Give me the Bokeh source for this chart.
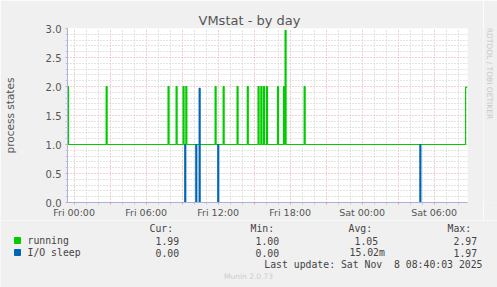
from bokeh.plotting import figure
from bokeh.models import Range1d, FixedTicker, ColumnDataSource
from bokeh.layouts import column, row
from bokeh.core.properties import value
from bokeh.embed import file_html
from bokeh.resources import INLINE
import math

# ---- data (hours from Fri 00:00) ----
running_spike_hours = [-0.55, 2.67, 7.83, 8.50, 9.08, 9.31, 11.75, 12.42, 13.58, 14.43,
                       15.33, 15.56, 15.78, 16.03, 16.95, 17.45, 17.58, 19.17, 32.62]
running_spike_values = [2.0, 2.0, 2.0, 2.0, 2.0, 2.0, 2.0, 2.0, 2.0, 2.0,
                        2.0, 2.0, 2.0, 2.0, 2.0, 2.0, 2.97, 2.0, 1.99]
running_spike_samples = [1, 1, 1, 1, 1, 1, 1, 1, 1, 1, 1, 1, 1, 1, 1, 1, 1, 1, 3]
running_base = 1.0

iosleep_spike_hours = [9.22, 10.14, 10.42, 11.97, 28.81]
iosleep_spike_values = [1.0, 1.0, 1.97, 1.0, 1.0]
iosleep_spike_samples = [1, 1, 1, 1, 1]
iosleep_base = 0.0

x_start, x_end = -0.55, 32.78
sample_h = 5.0 / 60.0

x_major_ticks = [0, 3, 6, 9, 12, 15, 18, 21, 24, 27, 30]
x_minor_ticks = [h for h in range(0, 33) if h % 3 != 0]
x_tick_labels = {0: "Fri 00:00", 3: "", 6: "Fri 06:00", 9: "", 12: "Fri 12:00", 15: "",
                 18: "Fri 18:00", 21: "", 24: "Sat 00:00", 27: "", 30: "Sat 06:00"}
y_major_ticks = [0.0, 0.5, 1.0, 1.5, 2.0, 2.5, 3.0]
y_minor_ticks = [0.1, 0.2, 0.3, 0.4, 0.6, 0.7, 0.8, 0.9, 1.1, 1.2, 1.3, 1.4, 1.6, 1.7, 1.8, 1.9,
                 2.1, 2.2, 2.3, 2.4, 2.6, 2.7, 2.8, 2.9]

series_names = ["running", "I/O sleep"]
series_colors = ["#00cc00", "#0066b3"]
stat_headers = ["Cur:", "Min:", "Avg:", "Max:"]
stat_cur = ["1.99", "0.00"]
stat_min = ["1.00", "0.00"]
stat_avg = ["1.05", "15.02m"]
stat_max = ["2.97", "1.97"]
last_update = "Last update: Sat Nov \u00a08 08:40:03 2025"
munin_version = "Munin 2.0.73"
title_text = "VMstat - by day"
y_label = "process states"
side_text = "RRDTOOL / TOBI OETIKER"

W, H = 497, 287
TOP_H = 220
STRIP_W = 14
BG = "#f0f0f0"


def build(times, vals, lens, base):
    xs, ys = [x_start], [base]
    for t, v, n in zip(times, vals, lens):
        t0 = max(t, x_start)
        t1 = min(t + n * sample_h, x_end)
        xs += [t0, t0, t1, t1]
        ys += [base, v, v, base if t1 < x_end else v]
    if xs[-1] < x_end:
        xs.append(x_end)
        ys.append(base)
    return xs, ys


# ---------------- main chart ----------------
p = figure(width=W - STRIP_W, height=TOP_H, output_backend="svg", toolbar_location=None,
           x_range=Range1d(x_start, x_end), y_range=Range1d(0, 3),
           min_border_left=67, min_border_right=30 - STRIP_W, min_border_top=28,
           min_border_bottom=TOP_H - 203)
p.border_fill_color = BG
p.background_fill_color = "white"
p.outline_line_color = None

p.title.text = title_text
p.title.text_font = "DejaVu Sans"
p.title.text_font_size = "13px"
p.title.text_font_style = "normal"
p.title.text_color = "#555555"
p.title.align = "left"
p.title.offset = 131
p.title.standoff = 2

for ax in (p.xaxis[0], p.yaxis[0]):
    ax.axis_line_color = "#a8b0e0"
    ax.major_label_text_font = "DejaVu Sans"
    ax.major_label_text_color = "#555555"
    ax.major_tick_line_color = "#e8a0a0"
    ax.minor_tick_line_color = "#c8c8c8"
    ax.major_tick_in = 0
    ax.major_tick_out = 2
    ax.minor_tick_in = 0
    ax.minor_tick_out = 2

p.xaxis[0].ticker = FixedTicker(ticks=x_major_ticks, minor_ticks=x_minor_ticks)
p.xaxis[0].major_label_overrides = x_tick_labels
p.xaxis[0].major_label_text_font_size = "9.5px"
p.xaxis[0].major_label_standoff = 2
p.yaxis[0].ticker = FixedTicker(ticks=y_major_ticks, minor_ticks=y_minor_ticks)
p.yaxis[0].major_label_overrides = {v: "%.1f" % v for v in y_major_ticks}
p.yaxis[0].major_label_text_font_size = "10px"
p.yaxis[0].major_label_standoff = 4
p.yaxis[0].axis_label = y_label
p.yaxis[0].axis_label_text_font = "DejaVu Sans"
p.yaxis[0].axis_label_text_font_size = "10.5px"
p.yaxis[0].axis_label_text_font_style = "normal"
p.yaxis[0].axis_label_text_color = "#555555"
p.yaxis[0].axis_label_standoff = 27

for g in (p.xgrid[0], p.ygrid[0]):
    g.grid_line_color = "#e8a0a0"
    g.grid_line_dash = "1 2"
    g.grid_line_width = 1
    g.minor_grid_line_color = "#c8c8c8"
    g.minor_grid_line_dash = "1 2"
    g.minor_grid_line_width = 1

rx, ry = build(running_spike_hours, running_spike_values, running_spike_samples, running_base)
ix, iy = build(iosleep_spike_hours, iosleep_spike_values, iosleep_spike_samples, iosleep_base)
p.line(rx, ry, line_color=series_colors[0], line_width=1.2)
p.line(ix, iy, line_color=series_colors[1], line_width=1.2)


def blank(w, h):
    f = figure(width=w, height=h, output_backend="svg", toolbar_location=None,
               x_range=Range1d(0, w), y_range=Range1d(0, h),
               x_axis_location=None, y_axis_location=None, min_border=0)
    f.border_fill_color = BG
    f.background_fill_color = BG
    f.outline_line_color = None
    f.xgrid.visible = False
    f.ygrid.visible = False
    return f


# ---------------- right strip ----------------
s = blank(STRIP_W, TOP_H)
s.text(x=[488.5 - (W - STRIP_W)], y=[TOP_H - 53.5], text=[side_text],
       text_font=value("DejaVu Sans"), text_font_size="7.5px", text_color="#c8c8c8",
       text_align="center", text_baseline="middle", angle=-math.pi / 2)

# ---------------- legend area ----------------
LH = H - TOP_H
lg = blank(W, LH)


def txt(strs, xs, cys, size="9.8px", font="DejaVu Sans Mono", color="#444444", align="left"):
    src = ColumnDataSource(dict(x=xs, y=[H - c for c in cys], t=strs))
    lg.text(x="x", y="y", text="t", source=src, text_font=value(font), text_font_size=size,
            text_color=color, text_align=align, text_baseline="middle")


txt(stat_headers, [149, 250, 348, 447], [227.5] * 4)
row_y = [240, 252]
lg.scatter(x=[17, 17], y=[H - c for c in row_y], marker="square", size=6,
           fill_color=series_colors, line_color=series_colors)
txt(series_names, [27, 27], row_y)
txt(stat_cur, [155, 155], row_y)
txt(stat_min, [255, 255], row_y)
txt(stat_avg, [354, 349], row_y)
txt(stat_max, [453, 453], row_y)
txt([last_update], [482], [263.5], align="right")
txt([munin_version], [248], [276], size="7.5px", font="DejaVu Sans", color="#cccccc",
    align="center")

layout = column(row(p, s, spacing=0), lg, spacing=0)
open("out.html", "w").write(file_html(layout, INLINE))
